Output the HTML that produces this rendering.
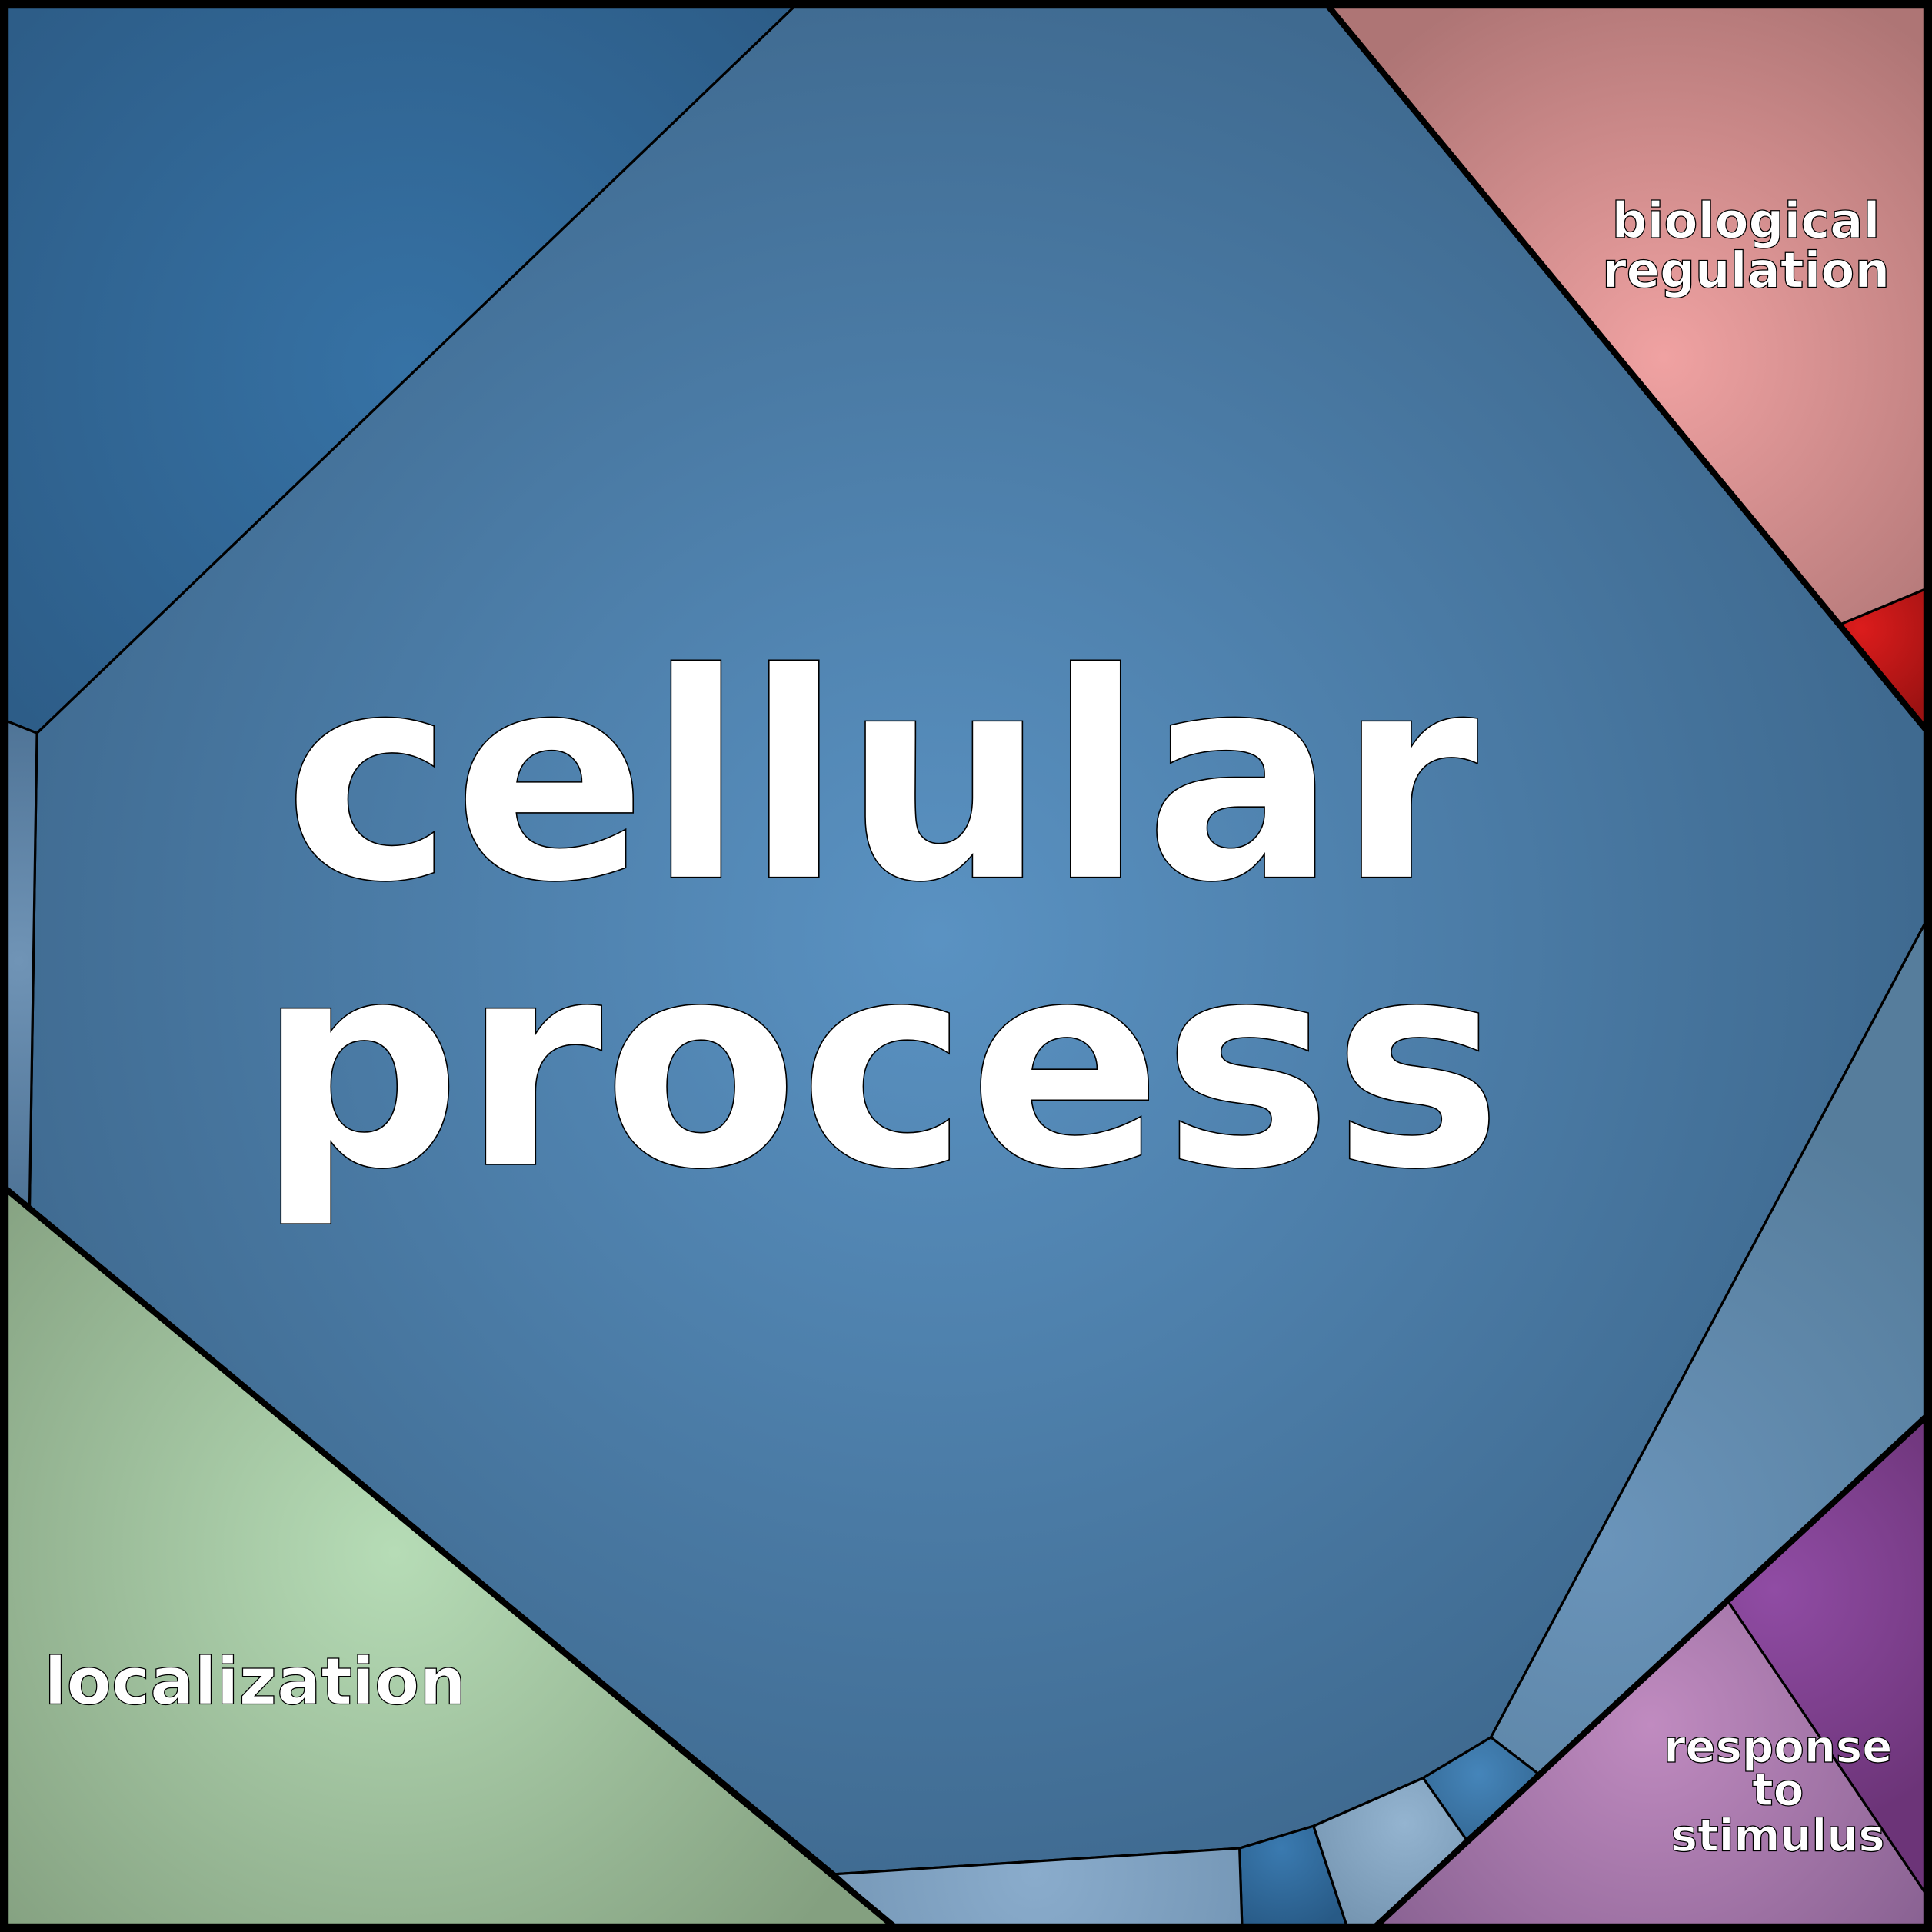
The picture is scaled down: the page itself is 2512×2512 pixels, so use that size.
<!DOCTYPE html>
<html><head><meta charset="utf-8"><style>html,body{margin:0;padding:0;background:#fff}svg{display:block}</style></head>
<body>
<svg width="2512" height="2512" viewBox="0 0 1568 1568" xmlns="http://www.w3.org/2000/svg">
<defs>
<radialGradient id="gc" cx="760" cy="760" r="800" gradientUnits="userSpaceOnUse"><stop offset="0" stop-color="#5a92c2"/><stop offset="1" stop-color="#3f6a90"/></radialGradient>
<radialGradient id="gtl" cx="330" cy="300" r="420" gradientUnits="userSpaceOnUse"><stop offset="0" stop-color="#3672a5"/><stop offset="1" stop-color="#2d5d88"/></radialGradient>
<radialGradient id="gls" cx="15" cy="780" r="200" gradientUnits="userSpaceOnUse"><stop offset="0" stop-color="#7094b6"/><stop offset="1" stop-color="#4e7396"/></radialGradient>
<radialGradient id="gbr" cx="1350" cy="290" r="330" gradientUnits="userSpaceOnUse"><stop offset="0" stop-color="#f0a2a2"/><stop offset="1" stop-color="#ae7575"/></radialGradient>
<radialGradient id="gred" cx="1510" cy="510" r="80" gradientUnits="userSpaceOnUse"><stop offset="0" stop-color="#dc1c1c"/><stop offset="1" stop-color="#9c1212"/></radialGradient>
<radialGradient id="grb" cx="1300" cy="1250" r="380" gradientUnits="userSpaceOnUse"><stop offset="0" stop-color="#6a94ba"/><stop offset="1" stop-color="#567d9c"/></radialGradient>
<radialGradient id="gpr" cx="1440" cy="1290" r="200" gradientUnits="userSpaceOnUse"><stop offset="0" stop-color="#904ca4"/><stop offset="1" stop-color="#6c3478"/></radialGradient>
<radialGradient id="grs" cx="1340" cy="1400" r="300" gradientUnits="userSpaceOnUse"><stop offset="0" stop-color="#c08bc0"/><stop offset="1" stop-color="#845e8e"/></radialGradient>
<radialGradient id="gsb" cx="1200" cy="1440" r="60" gradientUnits="userSpaceOnUse"><stop offset="0" stop-color="#4585ba"/><stop offset="1" stop-color="#346894"/></radialGradient>
<radialGradient id="glb" cx="1140" cy="1480" r="90" gradientUnits="userSpaceOnUse"><stop offset="0" stop-color="#94b4d0"/><stop offset="1" stop-color="#7696b2"/></radialGradient>
<radialGradient id="gdb" cx="1040" cy="1500" r="70" gradientUnits="userSpaceOnUse"><stop offset="0" stop-color="#3a7ab0"/><stop offset="1" stop-color="#285a86"/></radialGradient>
<radialGradient id="gbs" cx="840" cy="1520" r="250" gradientUnits="userSpaceOnUse"><stop offset="0" stop-color="#8aaccc"/><stop offset="1" stop-color="#6d8fae"/></radialGradient>
<radialGradient id="gloc" cx="320" cy="1260" r="450" gradientUnits="userSpaceOnUse"><stop offset="0" stop-color="#b6dcb6"/><stop offset="1" stop-color="#84a080"/></radialGradient>
</defs>
<g stroke="#000" stroke-width="2" stroke-linejoin="round">
<polygon fill="url(#gc)" points="645,5 1078,5 1563,592 1563,748 1210,1410 1155,1443 1066,1482 1006,1500 678,1521 24,980 30,595"/>
<polygon fill="url(#gtl)" points="5,5 645,5 30,595 5,585"/>
<polygon fill="url(#gls)" points="5,585 30,595 24,980 5,965"/>
<polygon fill="url(#gbr)" points="1078,5 1563,5 1563,478 1493,507"/>
<polygon fill="url(#gred)" points="1493,507 1563,478 1563,592"/>
<polygon fill="url(#grb)" points="1563,748 1563,1150 1249,1440 1210,1410"/>
<polygon fill="url(#gpr)" points="1563,1150 1563,1537 1402,1299"/>
<polygon fill="url(#grs)" points="1402,1299 1563,1537 1563,1563 1117,1563"/>
<polygon fill="url(#gsb)" points="1210,1410 1249,1440 1190,1493 1155,1443"/>
<polygon fill="url(#glb)" points="1155,1443 1190,1493 1117,1563 1093,1563 1066,1482"/>
<polygon fill="url(#gdb)" points="1006,1500 1066,1482 1093,1563 1008,1563"/>
<polygon fill="url(#gbs)" points="678,1521 1006,1500 1008,1563 725,1563"/>
<polygon fill="url(#gloc)" points="5,965 725,1563 5,1563"/>
</g>
<g stroke="#000" stroke-width="5" fill="none" stroke-linecap="round">
<line x1="5" y1="965" x2="725" y2="1563"/>
<line x1="1078" y1="5" x2="1563" y2="592"/>
<line x1="1117" y1="1563" x2="1563" y2="1150"/>
<rect x="3.5" y="3.5" width="1561" height="1561" stroke-width="7"/>
</g>
<g font-family="'DejaVu Sans','Liberation Sans',sans-serif" font-weight="bold" fill="#fff" stroke="#000" text-anchor="middle">
<text x="715" y="712" font-size="232" stroke-width="1">cellular</text>
<text x="714" y="945" font-size="232" stroke-width="1">process</text>
<text x="1417" y="193" font-size="40" stroke-width="0.8">biological</text>
<text x="1417" y="233" font-size="40" stroke-width="0.8">regulation</text>
<text x="207" y="1383" font-size="53" stroke-width="0.8">localization</text>
<text x="1443" y="1430" font-size="36" stroke-width="0.8">response</text>
<text x="1443" y="1465" font-size="36" stroke-width="0.8">to</text>
<text x="1443" y="1502" font-size="36" stroke-width="0.8">stimulus</text>
</g>
</svg>
</body></html>
